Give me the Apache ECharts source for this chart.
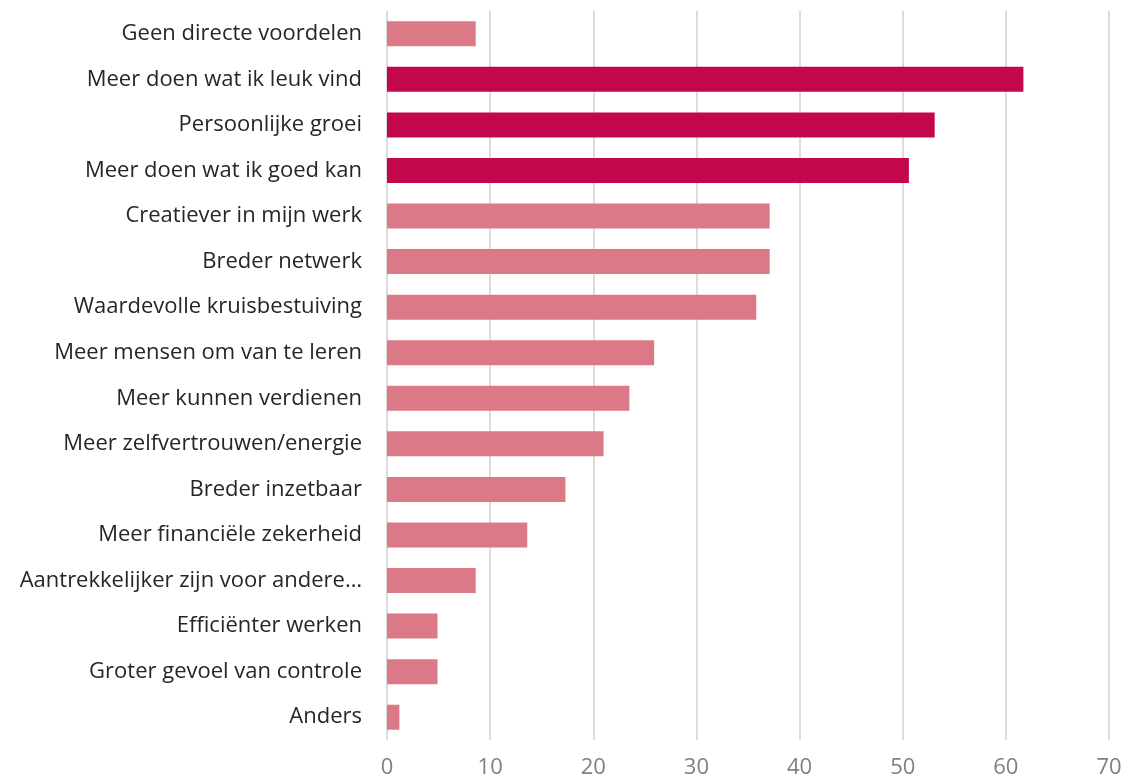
<!DOCTYPE html>
<html>
<head>
<meta charset="utf-8">
<script src="https://cdn.jsdelivr.net/npm/echarts@6/dist/echarts.min.js"></script>
<style>
  html, body { margin: 0; padding: 0; background: #fff; }
  #main { width: 1126px; height: 779px; }
</style>
</head>
<body>
<div id="main"></div>
<script>
// top to bottom as in the picture
const categories = [
  'Geen directe voordelen',
  'Meer doen wat ik leuk vind',
  'Persoonlijke groei',
  'Meer doen wat ik goed kan',
  'Creatiever in mijn werk',
  'Breder netwerk',
  'Waardevolle kruisbestuiving',
  'Meer mensen om van te leren',
  'Meer kunnen verdienen',
  'Meer zelfvertrouwen/energie',
  'Breder inzetbaar',
  'Meer financiële zekerheid',
  'Aantrekkelijker zijn voor andere…',
  'Efficiënter werken',
  'Groter gevoel van controle',
  'Anders'
];
const values = [8.6, 61.7, 53.1, 50.6, 37.1, 37.1, 35.8, 25.9, 23.5, 21.0, 17.3, 13.6, 8.6, 4.9, 4.9, 1.2];
const highlighted = ['Meer doen wat ik leuk vind', 'Persoonlijke groei', 'Meer doen wat ik goed kan'];
const xTicks = [0, 10, 20, 30, 40, 50, 60, 70];

const DARK = '#C3074C';
const LIGHT = '#DC7987';

const chart = echarts.init(document.getElementById('main'));

const option = {
  animation: false,
  textStyle: { fontFamily: 'Open Sans' },
  grid: { left: 387, right: 17, top: 11, bottom: 39, containLabel: false },
  xAxis: {
    type: 'value',
    min: xTicks[0],
    max: xTicks[xTicks.length - 1],
    interval: 10,
    axisLine: { show: false },
    axisTick: { show: false },
    axisLabel: { color: '#808080', fontSize: 22, margin: 17 },
    splitLine: { show: true, lineStyle: { color: '#dcdcdc', width: 2 } }
  },
  yAxis: {
    type: 'category',
    data: categories,
    inverse: true,
    axisLine: { show: false },
    axisTick: { show: false },
    axisLabel: { color: '#262626', fontSize: 22, margin: 25 }
  },
  series: [{
    type: 'bar',
    barWidth: 25,
    data: values.map((v, i) => ({
      value: v,
      itemStyle: { color: highlighted.includes(categories[i]) ? DARK : LIGHT }
    }))
  }]
};

chart.setOption(option);
</script>
</body>
</html>
